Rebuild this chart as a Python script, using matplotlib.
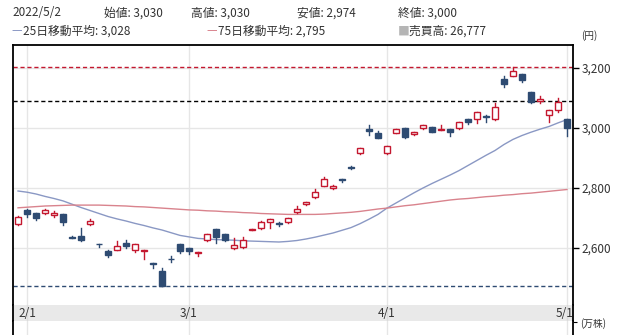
import matplotlib
matplotlib.use("Agg")
import matplotlib.pyplot as plt
from matplotlib.patches import Rectangle

plt.rcParams['font.family'] = ['Noto Sans CJK JP', 'DejaVu Sans']

# daily prices, 2022/1/31 .. 2022/5/2 (trading days only)
opens = [2679, 2727, 2716, 2716, 2710, 2713, 2637, 2641, 2679, 2614,
         2590, 2593, 2616, 2593, 2590, 2550, 2523, 2565, 2612, 2599,
         2584, 2626, 2662, 2646, 2599, 2602, 2660, 2666, 2686, 2682,
         2686, 2719, 2746, 2769, 2807, 2799, 2830, 2869, 2916, 2997,
         2984, 2918, 2984, 2999, 2979, 2999, 3002, 2995, 2997, 2999,
         3030, 3030, 3041, 3029, 3163, 3173, 3179, 3119, 3090, 3042,
         3060, 3030]
highs = [2706, 2731, 2718, 2729, 2722, 2715, 2641, 2668, 2697, 2615,
         2593, 2623, 2627, 2613, 2595, 2551, 2532, 2573, 2613, 2600,
         2588, 2647, 2663, 2647, 2632, 2638, 2664, 2689, 2697, 2688,
         2700, 2740, 2755, 2796, 2838, 2809, 2831, 2873, 2935, 3010,
         2990, 2941, 2998, 3000, 2988, 3011, 3003, 3010, 2998, 3020,
         3031, 3053, 3042, 3084, 3174, 3205, 3180, 3120, 3108, 3061,
         3099, 3030]
lows = [2676, 2704, 2693, 2714, 2704, 2677, 2633, 2625, 2678, 2604,
        2571, 2592, 2601, 2588, 2563, 2532, 2474, 2554, 2582, 2580,
        2573, 2625, 2618, 2625, 2598, 2601, 2659, 2665, 2668, 2673,
        2685, 2718, 2745, 2768, 2806, 2798, 2821, 2862, 2915, 2977,
        2966, 2912, 2983, 2968, 2978, 2998, 2986, 2994, 2974, 2998,
        3012, 3016, 3021, 3028, 3136, 3172, 3152, 3085, 3082, 3021,
        3052, 2974]
closes = [2704, 2712, 2699, 2727, 2718, 2688, 2635, 2627, 2690, 2612,
          2577, 2607, 2607, 2612, 2593, 2548, 2475, 2562, 2590, 2591,
          2587, 2646, 2638, 2626, 2609, 2627, 2663, 2688, 2696, 2679,
          2699, 2729, 2754, 2788, 2830, 2808, 2828, 2867, 2934, 2990,
          2968, 2940, 2997, 2969, 2987, 3010, 2988, 2997, 2986, 3019,
          3019, 3052, 3038, 3071, 3147, 3190, 3160, 3088, 3098, 3060,
          3088, 3000]
ma25 = [2790, 2786, 2780, 2772, 2765, 2757, 2746, 2735, 2725, 2715,
        2705, 2697, 2690, 2682, 2675, 2667, 2660, 2651, 2642, 2637,
        2632, 2630, 2628, 2627, 2626, 2624, 2623, 2622, 2621, 2620,
        2622, 2625, 2630, 2636, 2643, 2650, 2659, 2668, 2681, 2696,
        2712, 2733, 2750, 2767, 2784, 2800, 2815, 2829, 2843, 2858,
        2875, 2892, 2909, 2925, 2945, 2962, 2975, 2986, 2996, 3005,
        3017, 3028]
ma75 = [2734, 2736, 2738, 2740, 2741, 2742, 2743, 2743, 2743, 2743,
        2742, 2741, 2740, 2738, 2737, 2735, 2733, 2731, 2729, 2727,
        2726, 2724, 2723, 2721, 2720, 2718, 2717, 2715, 2714, 2713,
        2712, 2712, 2712, 2712, 2713, 2715, 2717, 2719, 2722, 2726,
        2730, 2733, 2737, 2741, 2744, 2748, 2752, 2756, 2760, 2763,
        2765, 2768, 2771, 2773, 2776, 2778, 2781, 2783, 2786, 2789,
        2792, 2795]

month_idx = [1, 19, 41, 61]
month_labels = ['2/1', '3/1', '4/1', '5/1']
price_ticks = [2600, 2800, 3000, 3200]
ref_price = 3090
volume_last = 26777

UP = '#c4182f'
DOWN = '#2e4b72'
C25 = '#8a98c4'
C75 = '#d9838d'
GRID = '#e6e6e6'
TXT = '#333333'

W, H = 617, 335
fig = plt.figure(figsize=(W / 100, H / 100), dpi=100)


def box(l, t, r, b):
    return [l / W, 1 - b / H, (r - l) / W, (b - t) / H]


ax = fig.add_axes(box(13, 45, 573, 305))
band = fig.add_axes(box(13, 305, 573, 321))
vol = fig.add_axes(box(13, 321, 573, 335))

xlim = (-0.56, 61.67)
n = len(closes)

# candles
for i in range(n):
    o, h, l, c = opens[i], highs[i], lows[i], closes[i]
    col = UP if c >= o else DOWN
    ax.plot([i, i], [l, h], color=col, lw=1.0, zorder=3)
    bottom = min(o, c)
    height = max(abs(c - o), 1.5)
    ax.add_patch(Rectangle((i - 0.38, bottom), 0.76, height,
                           facecolor='white' if c >= o else DOWN,
                           edgecolor=col, lw=1.0, zorder=4))

x = list(range(n))
ax.plot(x, ma25, color=C25, lw=1.0, zorder=2)
ax.plot(x, ma75, color=C75, lw=1.0, zorder=2)

ax.axhline(max(highs), color=UP, lw=1.0, ls=(0, (3, 2)), zorder=1)
ax.axhline(ref_price, color='black', lw=1.0, ls=(0, (3, 2)), zorder=1)
ax.axhline(min(lows), color=DOWN, lw=1.0, ls=(0, (3, 2)), zorder=1)

ax.set_xlim(*xlim)
ax.set_ylim(2410, 3276.7)
ax.set_yticks(price_ticks)
ax.set_yticklabels(['{:,}'.format(p) for p in price_ticks])
ax.yaxis.tick_right()
ax.tick_params(axis='y', direction='out', length=4, width=1, labelsize=8.5,
               labelcolor=TXT, pad=2)
ax.set_xticks(month_idx)
ax.tick_params(axis='x', length=0, labelbottom=False)
ax.grid(True, color=GRID, lw=1)
ax.set_axisbelow(True)
ax.spines['bottom'].set_visible(False)
for s in ['left', 'top', 'right']:
    ax.spines[s].set_linewidth(1.3)

# date band
band.set_facecolor('#e9e9e9')
band.set_xlim(*xlim)
band.set_ylim(0, 1)
band.set_yticks([])
band.set_xticks([])
for s in ['top', 'bottom']:
    band.spines[s].set_visible(False)
for s in ['left', 'right']:
    band.spines[s].set_linewidth(1.3)
for i, lab in zip(month_idx, month_labels):
    band.axvline(i, color='#dcdcdc', lw=1)
    band.text(i if i < 60 else i - 0.3, 0.45, lab, ha='center', va='center',
              fontsize=8.5, color=TXT, clip_on=False)

# top of volume panel
vol.set_xlim(*xlim)
vol.set_ylim(0, 1)
vol.set_xticks([])
for i in month_idx:
    vol.axvline(i, color=GRID, lw=1)
vol.yaxis.tick_right()
vol.set_yticks([0.92])
vol.set_yticklabels(['(万株)'])
vol.tick_params(axis='y', direction='out', length=3, labelsize=7,
                labelcolor=TXT, pad=2)
for s in ['top', 'bottom']:
    vol.spines[s].set_visible(False)
for s in ['left', 'right']:
    vol.spines[s].set_linewidth(1.3)


def px(xp, yp, s, **kw):
    kw.setdefault('color', TXT)
    kw.setdefault('fontsize', 8.5)
    fig.text(xp / W, 1 - yp / H, s, va='center', ha='left', **kw)


px(12, 13, '2022/5/2')
px(104, 13, '始値: {:,}'.format(opens[-1]))
px(191, 13, '高値: {:,}'.format(highs[-1]))
px(297, 13, '安値: {:,}'.format(lows[-1]))
px(398, 13, '終値: {:,}'.format(closes[-1]))

px(11, 31, '—', color=C25)
px(23, 31, '25日移動平均: {:,}'.format(ma25[-1]))
px(206, 31, '—', color=C75)
px(218, 31, '75日移動平均: {:,}'.format(ma75[-1]))
px(398, 31, '■', color='#b5b5b5')
px(409, 31, '売買高: {:,}'.format(volume_last))
px(581, 36, '(円)', fontsize=7)

fig.savefig('out.png', dpi=100)
